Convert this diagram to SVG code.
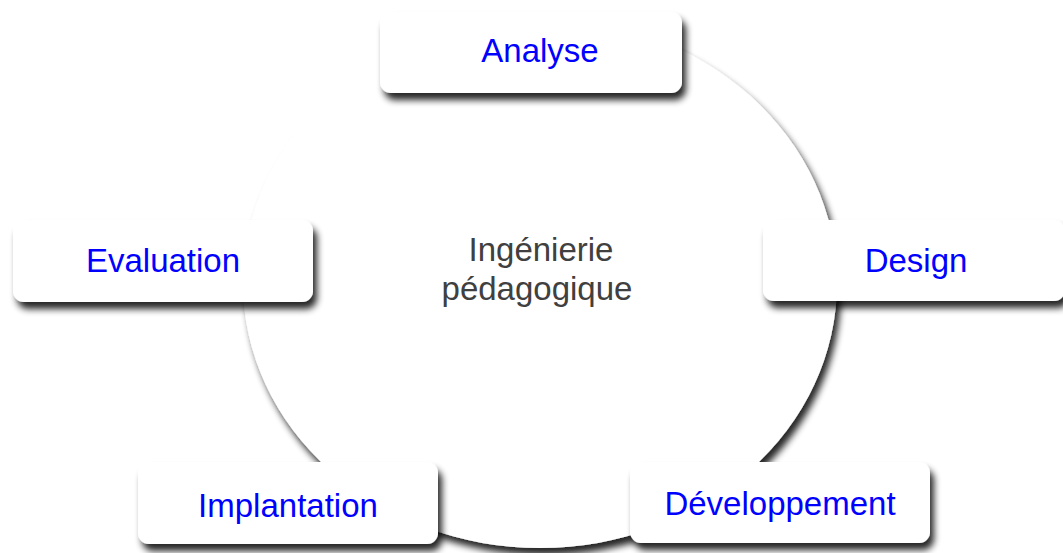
<svg xmlns="http://www.w3.org/2000/svg" width="1063" height="553" viewBox="0 0 1063 553">
  <defs>
    <filter id="sh" x="-10%" y="-10%" width="125%" height="145%">
      <feGaussianBlur in="SourceAlpha" stdDeviation="3.5"/>
      <feOffset dx="4" dy="7" result="b"/>
      <feComponentTransfer><feFuncA type="linear" slope="0.85"/></feComponentTransfer>
      <feMerge><feMergeNode/><feMergeNode in="SourceGraphic"/></feMerge>
    </filter>
    <style>
      .box { fill: #ffffff; filter: url(#sh); }
      .lbl { font-family: "Liberation Sans", Arial, sans-serif; font-size: 33px; fill: #0000ff; text-anchor: middle; }
      .ctr { font-family: "Liberation Sans", Arial, sans-serif; font-size: 33px; fill: #404040; text-anchor: middle; }
    </style>
  </defs>
  <rect width="1063" height="553" fill="#ffffff"/>
  <g id="center">
    <ellipse cx="540" cy="283" rx="297" ry="265" fill="#ffffff" filter="url(#sh)"/>
    <text class="ctr" x="541" y="261">Ingénierie</text>
    <text class="ctr" x="537" y="300">pédagogique</text>
  </g>
  <g id="connectors"></g>
  <g id="analyse">
    <rect class="box" x="380" y="12" width="302" height="81" rx="11"/>
    <text class="lbl" x="540" y="62">Analyse</text>
  </g>
  <g id="design">
    <rect class="box" x="763" y="220" width="302" height="81" rx="11"/>
    <text class="lbl" x="916" y="272">Design</text>
  </g>
  <g id="developpement">
    <rect class="box" x="630" y="462" width="300" height="81" rx="11"/>
    <text class="lbl" x="780" y="515">Développement</text>
  </g>
  <g id="implantation">
    <rect class="box" x="138" y="462" width="300" height="82" rx="11"/>
    <text class="lbl" x="288" y="517">Implantation</text>
  </g>
  <g id="evaluation">
    <rect class="box" x="13" y="220" width="300" height="82" rx="11"/>
    <text class="lbl" x="163" y="272">Evaluation</text>
  </g>
</svg>
